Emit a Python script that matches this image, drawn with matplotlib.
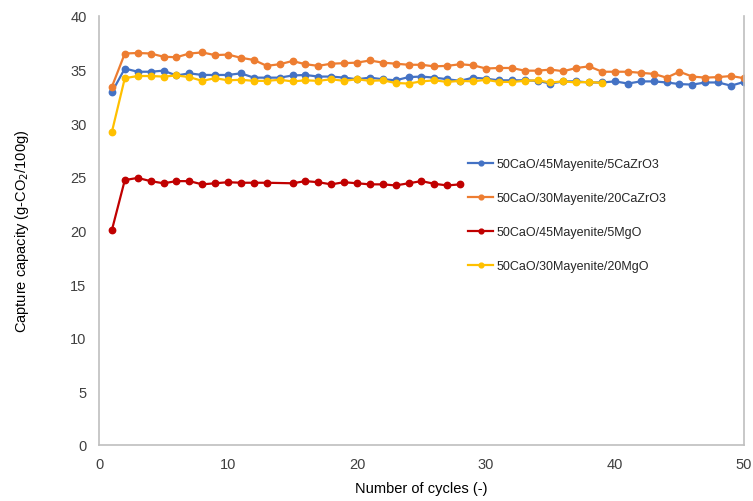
import matplotlib
matplotlib.use("Agg")
import matplotlib.pyplot as plt

plt.rcParams['font.family'] = ['Liberation Sans', 'DejaVu Sans']

cycles_blue = list(range(1, 51))
blue = [32.9, 35.1, 34.8, 34.8, 34.9, 34.45, 34.65, 34.5, 34.5, 34.5,
        34.65, 34.25, 34.25, 34.25, 34.45, 34.5, 34.35, 34.35, 34.25, 34.1,
        34.25, 34.1, 34.0, 34.3, 34.35, 34.25, 34.1, 33.95, 34.25, 34.15,
        34.0, 34.0, 34.0, 33.95, 33.7, 33.9, 33.9, 33.8, 33.8, 33.9,
        33.7, 33.9, 33.9, 33.8, 33.65, 33.6, 33.8, 33.8, 33.5, 33.85]

cycles_orange = list(range(1, 51))
orange = [33.4, 36.5, 36.55, 36.5, 36.2, 36.15, 36.5, 36.6, 36.35, 36.4,
          36.1, 35.9, 35.35, 35.5, 35.8, 35.5, 35.35, 35.55, 35.6, 35.65,
          35.85, 35.65, 35.55, 35.45, 35.45, 35.3, 35.35, 35.5, 35.4, 35.1,
          35.15, 35.15, 34.9, 34.9, 35.0, 34.85, 35.15, 35.3, 34.8, 34.8,
          34.8, 34.7, 34.6, 34.25, 34.8, 34.35, 34.25, 34.3, 34.4, 34.2]

cycles_red = [1, 2, 3, 4, 5, 6, 7, 8, 9, 10, 11, 12, 13,
              15, 16, 17, 18, 19, 20, 21, 22, 23, 24, 25, 26, 27, 28]
red = [20.05, 24.7, 24.9, 24.6, 24.4, 24.6, 24.6, 24.3, 24.4, 24.5, 24.45, 24.45, 24.45,
       24.4, 24.6, 24.5, 24.3, 24.5, 24.4, 24.3, 24.3, 24.2, 24.4, 24.6, 24.35, 24.2, 24.3]

cycles_yellow = list(range(1, 40))
yellow = [29.2, 34.2, 34.4, 34.4, 34.35, 34.45, 34.3, 33.95, 34.2, 34.0,
          34.05, 33.95, 33.95, 34.05, 33.9, 34.0, 33.95, 34.1, 33.95, 34.1,
          33.95, 34.0, 33.75, 33.7, 33.9, 34.0, 33.85, 33.95, 33.9, 34.05,
          33.85, 33.85, 33.95, 34.0, 33.8, 33.9, 33.8, 33.85, 33.75]

labels = ["50CaO/45Mayenite/5CaZrO3", "50CaO/30Mayenite/20CaZrO3",
          "50CaO/45Mayenite/5MgO", "50CaO/30Mayenite/20MgO"]
colors = ["#4472C4", "#ED7D31", "#C00000", "#FFC000"]

fig = plt.figure(figsize=(7.53, 5.02), dpi=100)
ax = fig.add_axes([0.1315, 0.1116, 0.8565, 0.8546])

series = [(cycles_blue, blue), (cycles_orange, orange), (cycles_red, red), (cycles_yellow, yellow)]
handles = []
for (x, y), c, lab in zip(series, colors, labels):
    h, = ax.plot(x, y, color=c, marker='o', markersize=4.6, linewidth=1.6, label=lab)
    handles.append(h)

ax.set_xlim(0, 50)
ax.set_ylim(0, 40)
ax.set_xticks(range(0, 51, 10))
ax.set_yticks(range(0, 41, 5))
ax.tick_params(axis='both', length=0, labelsize=10.5, colors='#404040')
ax.tick_params(axis='y', pad=9)
ax.tick_params(axis='x', pad=9)
ax.spines['top'].set_visible(False)
for s in ['left', 'bottom', 'right']:
    ax.spines[s].set_color('#BFBFBF')
    ax.spines[s].set_linewidth(1.2)

ax.set_xlabel("Number of cycles (-)", fontsize=10.5, color='#000000', labelpad=7)
ax.set_ylabel("Capture capacity (g-CO$_2$/100g)", fontsize=10.5, color='#000000', labelpad=28)

leg = ax.legend(handles=handles, loc='upper left', bbox_to_anchor=(457/753, 1 - 148/502),
                bbox_transform=fig.transFigure, frameon=False, fontsize=9,
                labelspacing=1.75, handlelength=2.0, handletextpad=0.25, markerscale=0.75)
for t in leg.get_texts():
    t.set_color('#262626')

fig.savefig("out.png", dpi=100)
